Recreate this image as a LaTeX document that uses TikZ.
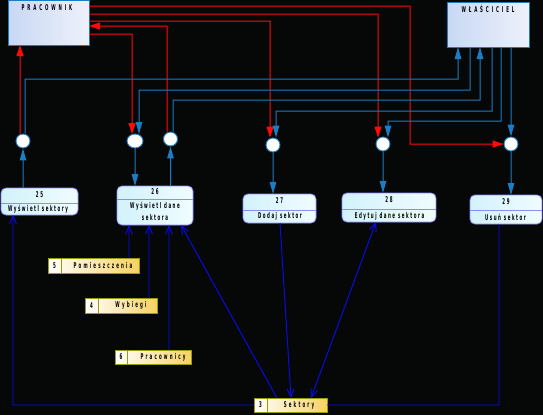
\documentclass[tikz,border=0pt]{standalone}
\usepackage{fontspec}
\usetikzlibrary{arrows.meta,calc,shapes.geometric}
\newfontfamily\pfont[FakeStretch=0.5,LetterSpace=19]{DejaVu Sans}
\newfontfamily\sfont[FakeStretch=0.5,LetterSpace=27]{DejaVu Sans}
\newfontfamily\efont[FakeStretch=0.5,LetterSpace=36]{DejaVu Sans}
\definecolor{bgc}{HTML}{060808}
\definecolor{redc}{HTML}{FF0A0A}
\definecolor{stb}{HTML}{1C7CC4}
\definecolor{dkb}{HTML}{0A0AF5}
\definecolor{extl}{HTML}{C8D8F4}
\definecolor{extr}{HTML}{EEF1FB}
\definecolor{procb}{HTML}{8C8CFF}
\definecolor{procl}{HTML}{D2F2FB}
\definecolor{procr}{HTML}{F0FCFF}
\definecolor{stob}{HTML}{9A9A10}
\definecolor{stol}{HTML}{FFFFFF}
\definecolor{stor}{HTML}{F6D262}
\begin{document}
\begin{tikzpicture}[x=1bp,y=-1bp,
  extbox/.style={draw=stb,line width=0.9bp,left color=extl,right color=extr,inner sep=0pt,outer sep=0pt,anchor=north west},
  procbox/.style={draw=procb,line width=0.8bp,rounded corners=5bp,left color=procl,right color=procr,inner sep=0pt,outer sep=0pt,anchor=north west},
  storebox/.style={draw=stob,line width=0.9bp,left color=stol,right color=stor,inner sep=0pt,outer sep=0pt,anchor=north west},
  hub/.style={ellipse,draw=stb,line width=0.9bp,fill=white,inner sep=0pt,minimum width=14bp,minimum height=14bp},
  ptxt/.style={font=\pfont\bfseries\fontsize{8}{9}\selectfont,text=black,inner sep=0pt},
  stxt/.style={font=\sfont\bfseries\fontsize{8}{9}\selectfont,text=black,inner sep=0pt},
  etxt/.style={font=\efont\bfseries\fontsize{8}{9}\selectfont,text=black,inner sep=0pt},
  rflow/.style={draw=redc,line width=1bp,-{Triangle[length=11bp,width=7bp]}},
  bflow/.style={draw=stb,line width=1bp,-{Triangle[length=12bp,width=6.5bp]}},
  dflow/.style={draw=dkb,line width=0.9bp,-{Straight Barb[length=8bp,width=7bp]}},
  dboth/.style={draw=dkb,line width=0.9bp,{Straight Barb[length=8bp,width=7bp]}-{Straight Barb[length=8bp,width=7bp]}},
  dline/.style={draw=dkb,line width=0.9bp},
  sepline/.style={draw=procb,line width=0.8bp},
  sdiv/.style={draw=stob,line width=0.9bp},
]
\useasboundingbox (0,0) rectangle (543,415);
\fill[bgc] (0,0) rectangle (543,415);

% external entities
\node[extbox,minimum width=81bp,minimum height=45bp] (prac) at (8,0) {};
\node[etxt] (pract) at (47,7.5) {PRACOWNIK};
\node[extbox,minimum width=82bp,minimum height=45bp] (wlas) at (447,2) {};
\node[etxt] (wlast) at (488,9) {WŁAŚCICIEL};

% processes
\node[procbox,minimum width=77bp,minimum height=27bp] (p25) at (1,188) {};
\draw[sepline] ([yshift=-15bp]p25.north west) -- ([yshift=-15bp]p25.north east);
\node[ptxt] (p25n) at (39.5,194.5) {25};
\node[ptxt] (p25t) at (38,209.5) {Wyświetl sektory};

\node[procbox,minimum width=76bp,minimum height=39bp] (p26) at (117,186) {};
\draw[sepline] ([yshift=-13bp]p26.north west) -- ([yshift=-13bp]p26.north east);
\node[ptxt] (p26n) at (155,192) {26};
\node[ptxt] (p26t) at (155,206) {Wyświetl dane};
\node[ptxt] (p26u) at (155,217.5) {sektora};

\node[procbox,minimum width=73bp,minimum height=29bp] (p27) at (243,194) {};
\draw[sepline] ([yshift=-16bp]p27.north west) -- ([yshift=-16bp]p27.north east);
\node[ptxt] (p27n) at (279.5,201) {27};
\node[ptxt] (p27t) at (280,216) {Dodaj sektor};

\node[procbox,minimum width=94bp,minimum height=29bp] (p28) at (342,193) {};
\draw[sepline] ([yshift=-16bp]p28.north west) -- ([yshift=-16bp]p28.north east);
\node[ptxt] (p28n) at (389,200) {28};
\node[ptxt] (p28t) at (389.5,216) {Edytuj dane sektora};

\node[procbox,minimum width=72bp,minimum height=29bp] (p29) at (470,195) {};
\draw[sepline] ([yshift=-15bp]p29.north west) -- ([yshift=-15bp]p29.north east);
\node[ptxt] (p29n) at (506,202) {29};
\node[ptxt] (p29t) at (505.5,217.5) {Usuń sektor};

% data stores
\node[storebox,minimum width=91bp,minimum height=15bp] (s5) at (48,258) {};
\draw[sdiv] (61,258) -- (61,273);
\node[stxt] (s5n) at (54.5,265.5) {5};
\node[stxt] (s5t) at (103,265.5) {Pomieszczenia};

\node[storebox,minimum width=72bp,minimum height=15bp] (s4) at (85,298) {};
\draw[sdiv] (98,298) -- (98,313);
\node[stxt] (s4n) at (91.5,305.5) {4};
\node[stxt] (s4t) at (131,305.5) {Wybiegi};

\node[storebox,minimum width=76bp,minimum height=14bp] (s6) at (115,350) {};
\draw[sdiv] (127,350) -- (127,364);
\node[stxt] (s6n) at (121,357) {6};
\node[stxt] (s6t) at (163,357) {Pracownicy};

\node[storebox,minimum width=73bp,minimum height=14bp] (s3) at (254,398) {};
\draw[sdiv] (267,398) -- (267,412);
\node[stxt] (s3n) at (260.5,405) {3};
\node[stxt] (s3t) at (299,405) {Sektory};

% hubs
\node[hub] (c25) at (23,141) {};
\node[hub,minimum width=16bp] (c26a) at (135,141) {};
\node[hub] (c26b) at (170.5,139) {};
\node[hub] (c27) at (273,145) {};
\node[hub] (c28) at (383,144) {};
\node[hub] (c29) at (511,144) {};

% red flows
\draw[rflow] ([yshift=-6bp]prac.north east) -- (410,6) -- (410,144) -- (c29.west);
\draw[rflow] ([yshift=-14bp]prac.north east) -- (378,14) -- ([xshift=-5bp,yshift=-1bp]c28.north);
\draw[rflow] ([yshift=-21bp]prac.north east) -- (270,21) -- ([xshift=-3bp]c27.north);
\draw[rflow] ([xshift=-3.5bp]c26b.north) -- (167,26) -- ([yshift=-26bp]prac.north east);
\draw[rflow] ([yshift=-34bp]prac.north east) -- (132,34) -- ([xshift=-3bp,yshift=-0.5bp]c26a.north);
\draw[rflow] ([xshift=-3bp]c25.north) -- ([xshift=-28.5bp]prac.south);

% blue flows
\draw[bflow] ([xshift=2bp]c25.north) -- (25,79) -- (458,79) -- ([xshift=11bp]wlas.south west);
\draw[bflow] ([xshift=23bp]wlas.south west) -- (470,90) -- (139,90) -- ([xshift=4bp,yshift=-0.5bp]c26a.north);
\draw[bflow] ([xshift=2.5bp]c26b.north) -- (173,100) -- (480,100) -- ([xshift=33bp]wlas.south west);
\draw[bflow] ([xshift=45bp]wlas.south west) -- (492,111) -- (276,111) -- ([xshift=3bp]c27.north);
\draw[bflow] ([xshift=54bp]wlas.south west) -- (501,121) -- (388,121) -- ([xshift=5bp,yshift=-1bp]c28.north);
\draw[bflow] ([xshift=64bp]wlas.south west) -- (c29.north);

% process <-> hub
\draw[bflow] ([xshift=22bp]p25.north west) -- (c25.south);
\draw[bflow] (c26a.south) -- ([xshift=18bp]p26.north west);
\draw[bflow] ([xshift=53.5bp]p26.north west) -- (c26b.south);
\draw[bflow] (c27.south) -- ([xshift=30bp]p27.north west);
\draw[bflow] (c28.south) -- ([xshift=41bp]p28.north west);
\draw[bflow] (c29.south) -- ([xshift=41bp]p29.north west);

% data flows to/from stores
\draw[dflow] ([xshift=81bp]s5.north west) -- ([xshift=12bp]p26.south west);
\draw[dflow] ([xshift=64bp]s4.north west) -- ([xshift=32bp]p26.south west);
\draw[dflow] ([xshift=54bp]s6.north west) -- ([xshift=52bp]p26.south west);
\draw[dflow] ([xshift=23bp]s3.north west) -- ([xshift=-12bp]p26.south east);
\draw[dflow] ([xshift=37bp]p27.south west) -- ([xshift=37bp]s3.north west);
\draw[dboth] ([xshift=34bp]p28.south west) -- ([xshift=57bp]s3.north west);
\draw[dline] ([xshift=29bp]p29.south west) -- (499,405) -- (s3.east);
\draw[dflow] (s3.west) -- (13,405) -- ([xshift=12bp]p25.south west);
\end{tikzpicture}
\end{document}
